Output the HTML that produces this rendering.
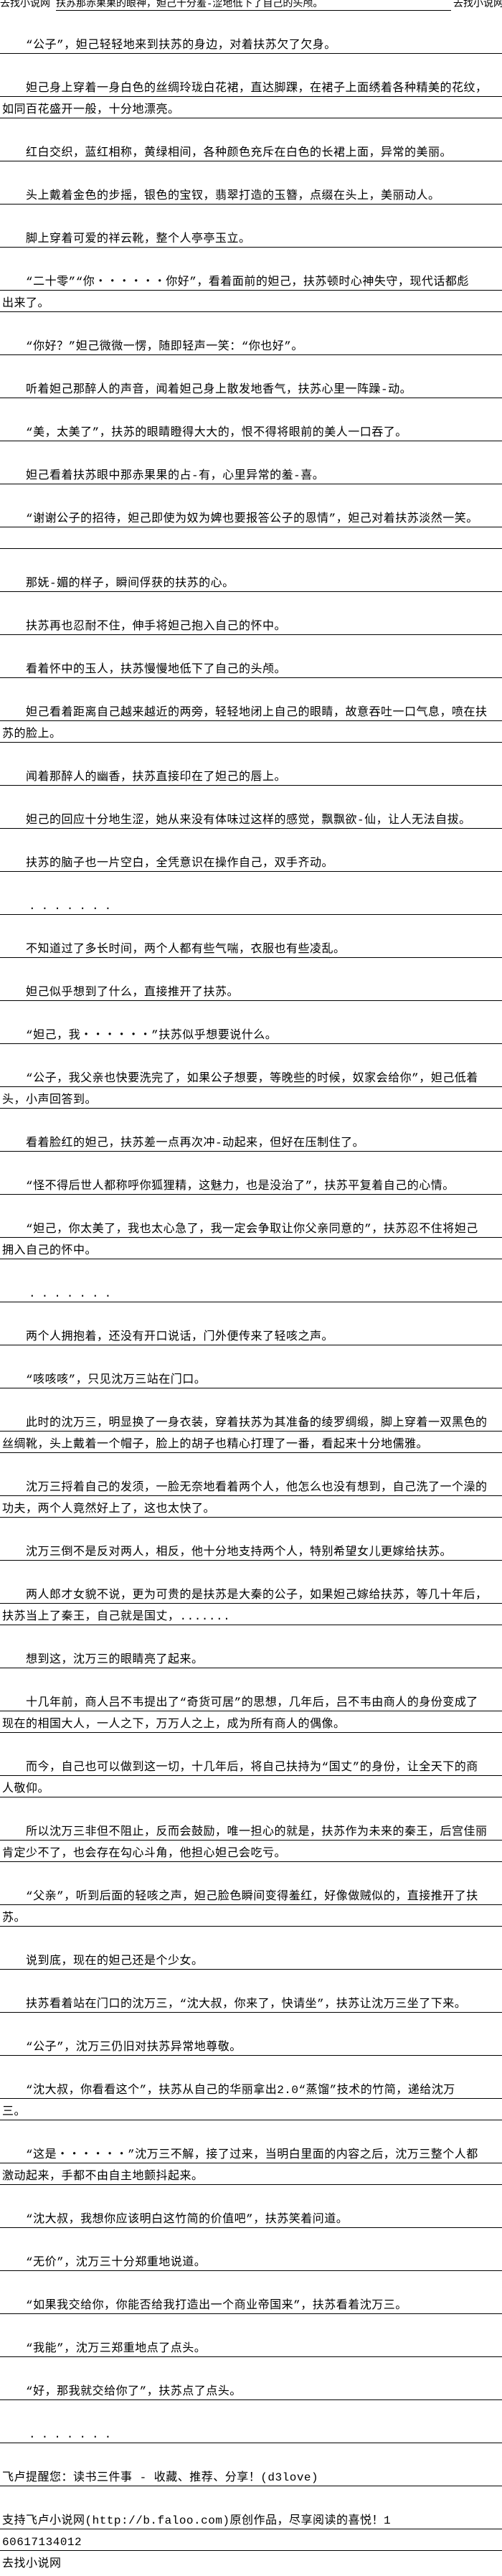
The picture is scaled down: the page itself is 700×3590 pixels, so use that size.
<!DOCTYPE html>
<html><head><meta charset="utf-8"><style>
html,body{margin:0;padding:0;background:#fff;}
body{width:700px;height:3590px;position:relative;overflow:hidden;font-family:"Liberation Mono","Noto Sans CJK SC",monospace;color:#000;}
.r{position:absolute;left:0;width:700px;height:30px;border-bottom:1px solid #000;box-sizing:border-box;white-space:nowrap;padding-left:3px;font-size:16px;line-height:20px;padding-top:8px;letter-spacing:.5px;}
.i{padding-left:36px;}
.n{border-bottom:none;}
.d{letter-spacing:8px;padding-left:40px;}
.h{position:absolute;top:-2px;font-size:14px;line-height:16px;white-space:nowrap;}
</style></head><body>
<div class="h" style="left:0">去找小说网</div>
<div class="h" style="left:78px;width:551px;border-bottom:1px solid #000;height:16px;overflow:hidden">扶苏那赤果果的眼神，妲己十分羞-涩地低下了自己的头颅。</div>
<div class="h" style="left:632px">去找小说网</div>

<div class="r i" style="top:45px">“公子”，妲己轻轻地来到扶苏的身边，对着扶苏欠了欠身。</div>
<div class="r i" style="top:105px">妲己身上穿着一身白色的丝绸玲珑白花裙，直达脚踝，在裙子上面绣着各种精美的花纹，</div>
<div class="r" style="top:135px">如同百花盛开一般，十分地漂亮。</div>
<div class="r i" style="top:195px">红白交织，蓝红相称，黄绿相间，各种颜色充斥在白色的长裙上面，异常的美丽。</div>
<div class="r i" style="top:255px">头上戴着金色的步摇，银色的宝钗，翡翠打造的玉簪，点缀在头上，美丽动人。</div>
<div class="r i" style="top:315px">脚上穿着可爱的祥云靴，整个人亭亭玉立。</div>
<div class="r i" style="top:375px">“二十零”“你・・・・・・你好”，看着面前的妲己，扶苏顿时心神失守，现代话都彪</div>
<div class="r" style="top:405px">出来了。</div>
<div class="r i" style="top:465px">“你好？”妲己微微一愣，随即轻声一笑：“你也好”。</div>
<div class="r i" style="top:525px">听着妲己那醉人的声音，闻着妲己身上散发地香气，扶苏心里一阵躁-动。</div>
<div class="r i" style="top:585px">“美，太美了”，扶苏的眼睛瞪得大大的，恨不得将眼前的美人一口吞了。</div>
<div class="r i" style="top:645px">妲己看着扶苏眼中那赤果果的占-有，心里异常的羞-喜。</div>
<div class="r i" style="top:705px">“谢谢公子的招待，妲己即使为奴为婢也要报答公子的恩情”，妲己对着扶苏淡然一笑。</div>
<div class="r" style="top:735px"></div>
<div class="r i" style="top:795px">那妩-媚的样子，瞬间俘获的扶苏的心。</div>
<div class="r i" style="top:855px">扶苏再也忍耐不住，伸手将妲己抱入自己的怀中。</div>
<div class="r i" style="top:915px">看着怀中的玉人，扶苏慢慢地低下了自己的头颅。</div>
<div class="r i" style="top:975px">妲己看着距离自己越来越近的两旁，轻轻地闭上自己的眼睛，故意吞吐一口气息，喷在扶</div>
<div class="r" style="top:1005px">苏的脸上。</div>
<div class="r i" style="top:1065px">闻着那醉人的幽香，扶苏直接印在了妲己的唇上。</div>
<div class="r i" style="top:1125px">妲己的回应十分地生涩，她从来没有体味过这样的感觉，飘飘欲-仙，让人无法自拔。</div>
<div class="r i" style="top:1185px">扶苏的脑子也一片空白，全凭意识在操作自己，双手齐动。</div>
<div class="r d" style="top:1245px">.......</div>
<div class="r i" style="top:1305px">不知道过了多长时间，两个人都有些气喘，衣服也有些凌乱。</div>
<div class="r i" style="top:1365px">妲己似乎想到了什么，直接推开了扶苏。</div>
<div class="r i" style="top:1425px">“妲己，我・・・・・・”扶苏似乎想要说什么。</div>
<div class="r i" style="top:1485px">“公子，我父亲也快要洗完了，如果公子想要，等晚些的时候，奴家会给你”，妲己低着</div>
<div class="r" style="top:1515px">头，小声回答到。</div>
<div class="r i" style="top:1575px">看着脸红的妲己，扶苏差一点再次冲-动起来，但好在压制住了。</div>
<div class="r i" style="top:1635px">“怪不得后世人都称呼你狐狸精，这魅力，也是没治了”，扶苏平复着自己的心情。</div>
<div class="r i" style="top:1695px">“妲己，你太美了，我也太心急了，我一定会争取让你父亲同意的”，扶苏忍不住将妲己</div>
<div class="r" style="top:1725px">拥入自己的怀中。</div>
<div class="r d" style="top:1785px">.......</div>
<div class="r i" style="top:1845px">两个人拥抱着，还没有开口说话，门外便传来了轻咳之声。</div>
<div class="r i" style="top:1905px">“咳咳咳”，只见沈万三站在门口。</div>
<div class="r i" style="top:1965px">此时的沈万三，明显换了一身衣装，穿着扶苏为其准备的绫罗绸缎，脚上穿着一双黑色的</div>
<div class="r" style="top:1995px">丝绸靴，头上戴着一个帽子，脸上的胡子也精心打理了一番，看起来十分地儒雅。</div>
<div class="r i" style="top:2055px">沈万三捋着自己的发须，一脸无奈地看着两个人，他怎么也没有想到，自己洗了一个澡的</div>
<div class="r" style="top:2085px">功夫，两个人竟然好上了，这也太快了。</div>
<div class="r i" style="top:2145px">沈万三倒不是反对两人，相反，他十分地支持两个人，特别希望女儿更嫁给扶苏。</div>
<div class="r i" style="top:2205px">两人郎才女貌不说，更为可贵的是扶苏是大秦的公子，如果妲己嫁给扶苏，等几十年后，</div>
<div class="r" style="top:2235px">扶苏当上了秦王，自己就是国丈，.......</div>
<div class="r i" style="top:2295px">想到这，沈万三的眼睛亮了起来。</div>
<div class="r i" style="top:2355px">十几年前，商人吕不韦提出了“奇货可居”的思想，几年后，吕不韦由商人的身份变成了</div>
<div class="r" style="top:2385px">现在的相国大人，一人之下，万万人之上，成为所有商人的偶像。</div>
<div class="r i" style="top:2445px">而今，自己也可以做到这一切，十几年后，将自己扶持为“国丈”的身份，让全天下的商</div>
<div class="r" style="top:2475px">人敬仰。</div>
<div class="r i" style="top:2535px">所以沈万三非但不阻止，反而会鼓励，唯一担心的就是，扶苏作为未来的秦王，后宫佳丽</div>
<div class="r" style="top:2565px">肯定少不了，也会存在勾心斗角，他担心妲己会吃亏。</div>
<div class="r i" style="top:2625px">“父亲”，听到后面的轻咳之声，妲己脸色瞬间变得羞红，好像做贼似的，直接推开了扶</div>
<div class="r" style="top:2655px">苏。</div>
<div class="r i" style="top:2715px">说到底，现在的妲己还是个少女。</div>
<div class="r i" style="top:2775px">扶苏看着站在门口的沈万三，“沈大叔，你来了，快请坐”，扶苏让沈万三坐了下来。</div>
<div class="r i" style="top:2835px">“公子”，沈万三仍旧对扶苏异常地尊敬。</div>
<div class="r i" style="top:2895px">“沈大叔，你看看这个”，扶苏从自己的华丽拿出2.0“蒸馏”技术的竹简，递给沈万</div>
<div class="r" style="top:2925px">三。</div>
<div class="r i" style="top:2985px">“这是・・・・・・”沈万三不解，接了过来，当明白里面的内容之后，沈万三整个人都</div>
<div class="r" style="top:3015px">激动起来，手都不由自主地颤抖起来。</div>
<div class="r i" style="top:3075px">“沈大叔，我想你应该明白这竹简的价值吧”，扶苏笑着问道。</div>
<div class="r i" style="top:3135px">“无价”，沈万三十分郑重地说道。</div>
<div class="r i" style="top:3195px">“如果我交给你，你能否给我打造出一个商业帝国来”，扶苏看着沈万三。</div>
<div class="r i" style="top:3255px">“我能”，沈万三郑重地点了点头。</div>
<div class="r i" style="top:3315px">“好，那我就交给你了”，扶苏点了点头。</div>
<div class="r d" style="top:3375px">.......</div>
<div class="r" style="top:3435px">飞卢提醒您：读书三件事 - 收藏、推荐、分享！(d3love)</div>
<div class="r" style="top:3495px">支持飞卢小说网(http://b.faloo.com)原创作品，尽享阅读的喜悦！1</div>
<div class="r" style="top:3525px">60617134012</div>
<div class="r n" style="top:3555px">去找小说网</div>
</body></html>
